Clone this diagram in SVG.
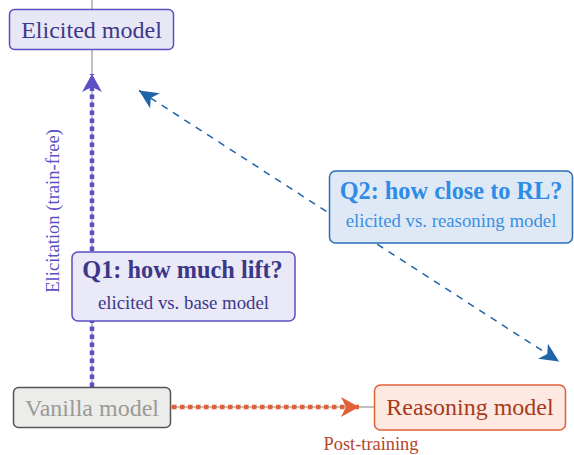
<svg xmlns="http://www.w3.org/2000/svg" width="574" height="455" viewBox="0 0 574 455">
<style>
text { font-family: "Liberation Serif", "Times New Roman", serif; }
.node { font-size: 24px; text-anchor: middle; }
.qt { font-size: 24.3px; font-weight: bold; text-anchor: middle; }
.qs { font-size: 18.8px; text-anchor: middle; }
.axis { stroke: #ababab; stroke-width: 1.5; fill: none; }
</style>
<defs>
<marker id="ah-purple" markerUnits="userSpaceOnUse" markerWidth="22" markerHeight="24" viewBox="-20 -12 22 24" refX="0" refY="0" orient="auto">
<path d="M0,0 L-18,-10 L-13,0 L-18,10 Z" fill="#5a4fc4"/>
</marker>
<marker id="ah-orange" markerUnits="userSpaceOnUse" markerWidth="22" markerHeight="24" viewBox="-20 -12 22 24" refX="0" refY="0" orient="auto">
<path d="M0,0 L-18,-10 L-13,0 L-18,10 Z" fill="#e0603a"/>
</marker>
<marker id="ah-blue" markerUnits="userSpaceOnUse" markerWidth="22" markerHeight="24" viewBox="-20 -12 22 24" refX="0" refY="0" orient="auto-start-reverse">
<path d="M0,0 L-19,-9 L-14,0 L-19,9 Z" fill="#1f63a8"/>
</marker>
</defs>

<g id="connectors">
<line class="axis" x1="92" y1="0" x2="92" y2="387"/>
<line class="axis" x1="171" y1="407" x2="374" y2="407"/>
<line x1="92" y1="387" x2="92" y2="74" stroke="#5a4fc4" stroke-width="4.5" stroke-dasharray="4.5 3.5" marker-end="url(#ah-purple)"/>
<line x1="172" y1="407" x2="359" y2="407" stroke="#e0603a" stroke-width="4.5" stroke-dasharray="4.5 3.5" marker-end="url(#ah-orange)"/>
<line x1="139" y1="90.5" x2="559" y2="361.5" stroke="#1f63a8" stroke-width="1.5" stroke-dasharray="7 6.5" marker-start="url(#ah-blue)" marker-end="url(#ah-blue)"/>
<text x="59" y="211" transform="rotate(-90 59 211)" text-anchor="middle" font-size="18.6" fill="#5a4fc4">Elicitation (train-free)</text>
<text x="371" y="450" text-anchor="middle" font-size="18.4" fill="#b4452a">Post-training</text>
</g>

<g id="elicited">
<rect x="9.5" y="9.5" width="164" height="40" rx="5" fill="#e8e7f6" stroke="#5a4fc4" stroke-width="1.5"/>
<text class="node" x="91.5" y="37.5" fill="#3c3889">Elicited model</text>
</g>

<g id="vanilla">
<rect x="13.5" y="387.5" width="157" height="40" rx="5" fill="#ececea" stroke="#555555" stroke-width="1.5"/>
<text class="node" x="92" y="415.5" fill="#9a9a96">Vanilla model</text>
</g>

<g id="reasoning">
<rect x="374.5" y="385" width="191" height="45" rx="6" fill="#fde9e2" stroke="#e0603a" stroke-width="1.5"/>
<text class="node" x="470" y="414.5" fill="#a8391c">Reasoning model</text>
</g>

<g id="q1">
<rect x="72" y="252" width="223" height="69" rx="6" fill="#eae9f7" stroke="#5a4fc4" stroke-width="1.5"/>
<text class="qt" x="182.5" y="278" fill="#3c3889">Q1: how much lift?</text>
<text class="qs" x="183.5" y="309" fill="#3c3889">elicited vs. base model</text>
</g>

<g id="q2">
<rect x="329.5" y="171" width="243" height="72" rx="6" fill="#dfe9f5" stroke="#2a6db5" stroke-width="1.5"/>
<text class="qt" x="451" y="198.5" fill="#2e8be6">Q2: how close to RL?</text>
<text class="qs" x="451" y="226.5" fill="#3a8fe3">elicited vs. reasoning model</text>
</g>
</svg>
